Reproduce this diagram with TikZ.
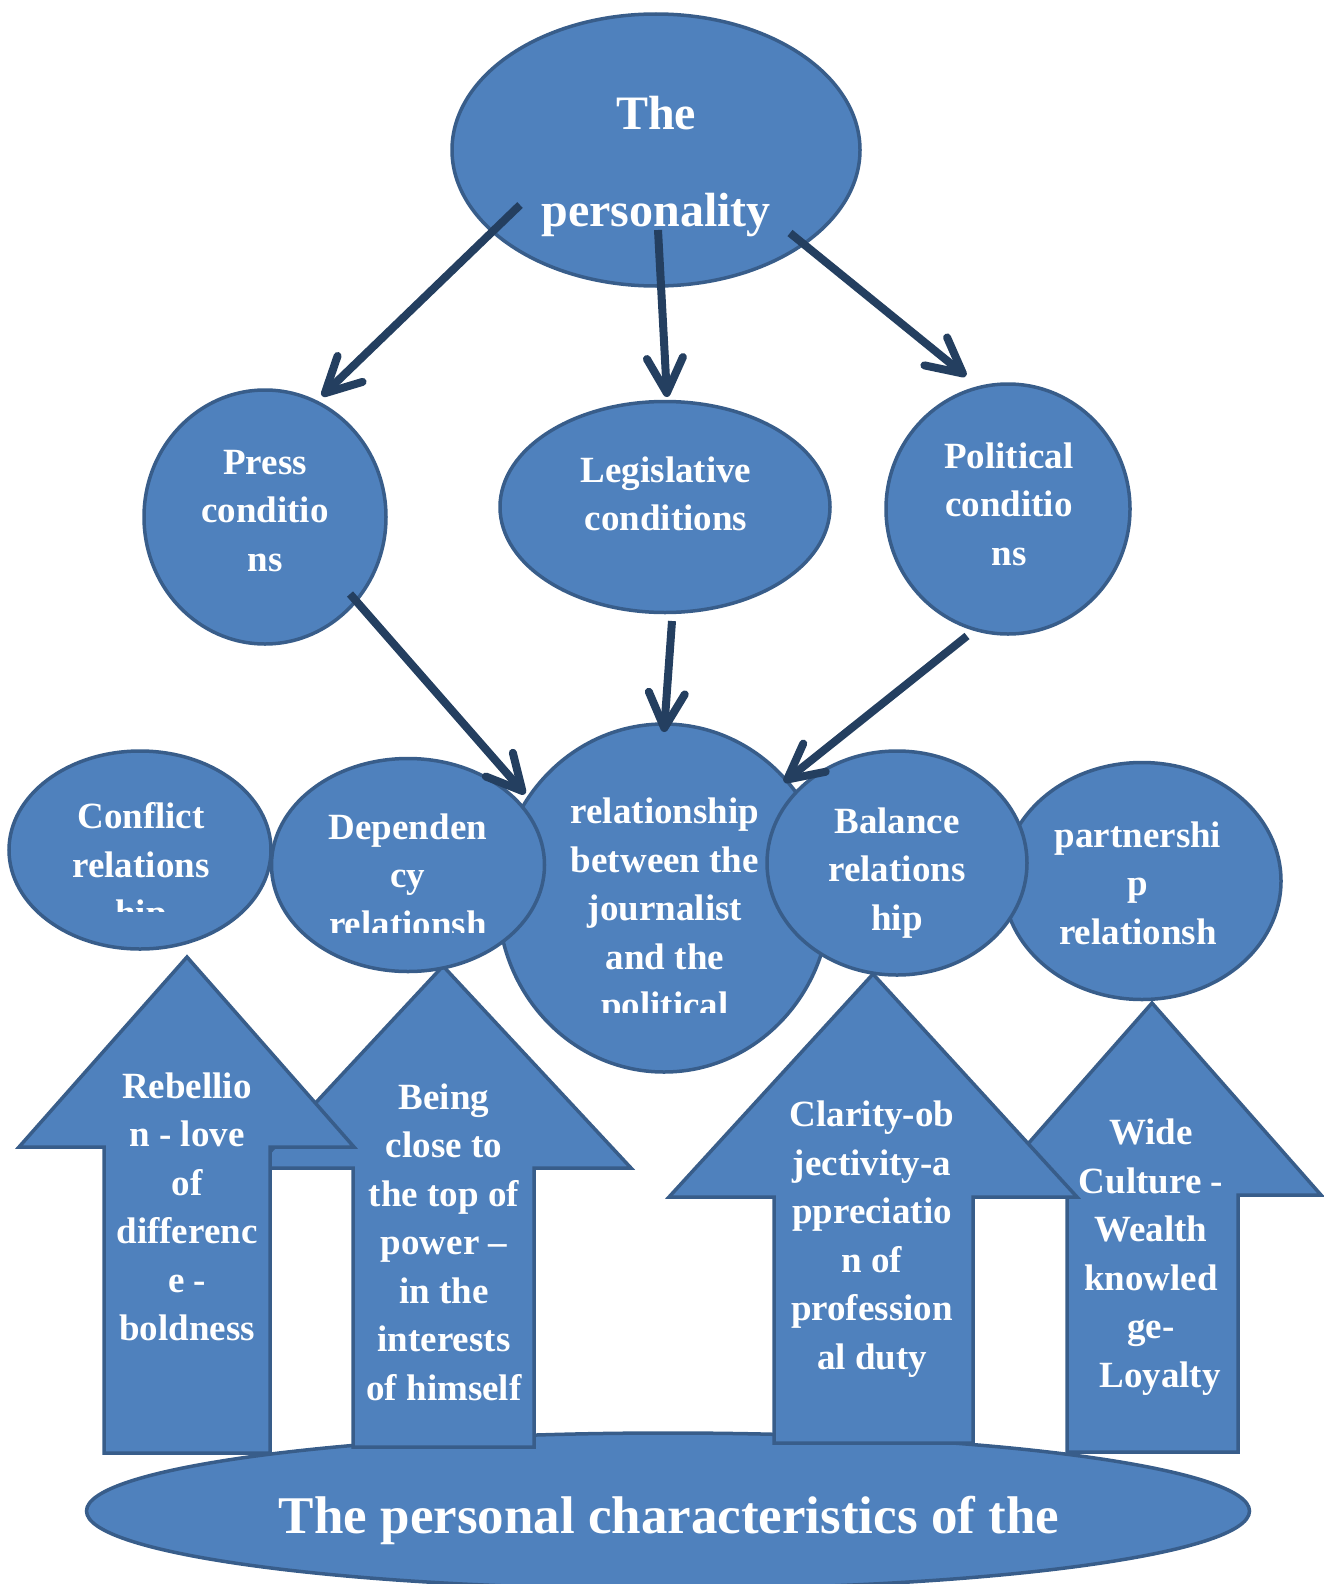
\documentclass[tikz,border=0pt]{standalone}
\usepackage{fontspec}
\setmainfont{Liberation Serif}
\usetikzlibrary{arrows.meta,shapes.geometric}
\definecolor{shapefill}{RGB}{79,129,189}
\definecolor{shapeline}{RGB}{56,93,138}
\definecolor{connline}{RGB}{36,63,96}
\tikzset{
  oval/.style={ellipse,draw=shapeline,fill=shapefill,line width=3.5pt,inner sep=0pt},
  blockarrow/.style={draw=shapeline,fill=shapefill,line width=3.5pt,line join=miter},
  lbl/.style={text=white,align=center,inner sep=0pt,font=\fontsize{37}{48.5}\selectfont\bfseries},
  biglbl/.style={text=white,align=center,inner sep=0pt,font=\fontsize{48}{97}\selectfont\bfseries},
  baselbl/.style={text=white,align=center,inner sep=0pt,font=\fontsize{53}{60}\selectfont\bfseries},
  conn/.style={draw=connline,line width=8pt,-{Straight Barb[length=35pt,width=36pt,round]}}
}
\begin{document}
\begin{tikzpicture}[x=1pt,y=-1pt]
\useasboundingbox (0,0) rectangle (1324,1584);
\clip (0,0) rectangle (1324,1584);

% base ellipse
\node[oval,minimum width=1163pt,minimum height=156pt] (base) at (668,1511) {};
\node[baselbl] (tbase) at (669,1520) {The personal characteristics of the};

% block arrows
\draw[blockarrow] (1152,1003) -- (1321,1195) -- (1238,1195) -- (1238,1452) -- (1067,1452) -- (1067,1195) -- (983,1195) -- cycle;
\node[lbl] (ta4) at (1151,1257) {Wide\\Culture -\\Wealth\\knowled\\ge-\\\hspace*{18pt}Loyalty};
\draw[blockarrow] (873,974) -- (1077,1197) -- (973,1197) -- (973,1443) -- (774,1443) -- (774,1197) -- (669,1197) -- cycle;
\node[lbl] (ta3) at (872,1239) {Clarity-ob\\jectivity-a\\ppreciatio\\n of\\profession\\al duty};
\draw[blockarrow] (443,966) -- (631,1168) -- (534,1168) -- (534,1447) -- (353,1447) -- (353,1168) -- (255,1168) -- cycle;
\node[lbl] (ta2) at (444,1242) {Being\\close to\\the top of\\power –\\in the\\interests\\of himself};
\draw[blockarrow] (187,957) -- (354,1147) -- (270,1147) -- (270,1453) -- (104,1453) -- (104,1147) -- (19,1147) -- cycle;
\node[lbl] (ta1) at (187,1207) {Rebellio\\n - love\\of\\differenc\\e -\\boldness};

% top ellipses
\node[oval,minimum width=408pt,minimum height=272pt] (top) at (656,150) {};
\node[biglbl] (ttop) at (656,167) {The\\personality};
\node[oval,minimum width=242pt,minimum height=254pt] (press) at (265,517) {};
\node[lbl] (tpress) at (265,511) {Press\\conditio\\ns};
\node[oval,minimum width=330pt,minimum height=211pt] (legis) at (665,507) {};
\node[lbl] (tlegis) at (666,494) {Legislative\\conditions};
\node[oval,minimum width=244pt,minimum height=250pt] (polit) at (1008,509) {};
\node[lbl] (tpolit) at (1009,504) {Political\\conditio\\ns};

% relationship row
\node[oval,minimum width=278pt,minimum height=237pt] (partner) at (1142,881) {};
\node[lbl] (tpartner) at (1138,883) {partnershi\\p\\relationsh};
\node[oval,minimum width=332pt,minimum height=348pt] (central) at (664,898) {};
\begin{scope}
\clip (500,720) rectangle (830,1012);
\node[lbl] (tcentral) at (665,912) {relationship\\between the\\journalist\\and the\\political};
\end{scope}
\node[oval,minimum width=260pt,minimum height=224pt] (balance) at (897,863) {};
\node[lbl] (tbalance) at (897,873) {Balance\\relations\\hip};
\node[oval,minimum width=262pt,minimum height=198pt] (conflict) at (140,850) {};
\begin{scope}
\clip (10,750) rectangle (270,911);
\node[lbl] (tconflict) at (141,868) {Conflict\\relations\\hip};
\end{scope}
\node[oval,minimum width=273pt,minimum height=213pt] (depend) at (408,865) {};
\begin{scope}
\clip (272,755) rectangle (545,932);
\node[lbl] (tdepend) at (408,875) {Dependen\\cy\\relationsh};
\end{scope}

% connector end points
\coordinate (s1) at (520,205);
\coordinate (e1) at (322,396);
\coordinate (s2) at (658,230);
\coordinate (e2) at (667,397);
\coordinate (s3) at (790,233);
\coordinate (e3) at (966,376);
\coordinate (s4) at (350,594);
\coordinate (e4) at (525,794);
\coordinate (s5) at (672,621);
\coordinate (e5) at (664,732);
\coordinate (s6) at (967,636);
\coordinate (e6) at (784,782);

\draw[conn] (s1) -- (e1);
\draw[conn] (s2) -- (e2);
\draw[conn] (s3) -- (e3);
\draw[conn] (s4) -- (e4);
\draw[conn] (s5) -- (e5);
\draw[conn] (s6) -- (e6);
\end{tikzpicture}
\end{document}
